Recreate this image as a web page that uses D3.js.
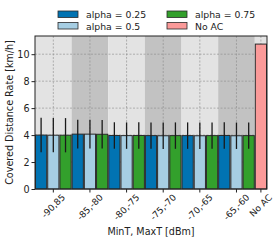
<!DOCTYPE html>
<html>
<head>
<meta charset="utf-8">
<script src="https://cdn.jsdelivr.net/npm/d3@7"></script>
<style>
  body { margin: 0; background: #fff; }
  text { font-family: "DejaVu Sans", sans-serif; fill: #222; }
</style>
</head>
<body>
<div id="chart"></div>
<script>
// chart values
const categories = ['-90,85', '-85,-80', '-80,-75', '-75,-70', '-70,-65', '-65,-60'];
const seriesNames = ['alpha = 0.25', 'alpha = 0.5', 'alpha = 0.75'];
const seriesColors = ['#0173b2', '#a6cee3', '#33a02c'];
const means = [
    [4.00, 3.99, 3.99],
    [4.07, 4.07, 4.06],
    [3.97, 3.96, 3.97],
    [3.96, 3.95, 3.96],
    [3.96, 3.95, 3.96],
    [3.97, 3.95, 3.96]
];
const errors = [
    [1.28, 1.27, 1.27],
    [1.07, 1.07, 1.06],
    [0.98, 0.98, 0.98],
    [0.98, 0.98, 0.98],
    [0.98, 0.98, 0.98],
    [0.98, 0.98, 0.98]
];
const noAcLabel = 'No AC';
const noAcValue = 10.75;
const noAcColor = '#fb9a99';
const yTicks = [0, 2, 4, 6, 8, 10];

const width = 280;
const height = 242;
const margin = { top: 36, right: 13, bottom: 53, left: 35 };

const svg = d3.select('#chart').append('svg')
    .attr('width', width)
    .attr('height', height);

const nSlots = categories.length * seriesNames.length + 1;
const x = d3.scaleBand()
    .domain(d3.range(nSlots))
    .range([margin.left, width - margin.right])
    .padding(0);

const y = d3.scaleLinear()
    .domain([0, 11.35])
    .range([height - margin.bottom, margin.top]);

const bw = x.bandwidth();

// background shading per group
const groups = categories.map((c, i) => ({ label: c, slots: [i * 3, i * 3 + 2] }));
groups.push({ label: noAcLabel, slots: [nSlots - 1, nSlots - 1] });

svg.selectAll('rect.bg')
    .data(groups)
    .enter().append('rect')
    .attr('class', 'bg')
    .attr('x', d => x(d.slots[0]))
    .attr('y', margin.top)
    .attr('width', d => x(d.slots[1]) + bw - x(d.slots[0]))
    .attr('height', y(0) - margin.top)
    .attr('fill', (d, i) => i % 2 === 0 ? '#e3e3e3' : '#c2c2c2');

// tick positions: centre of each group
const tickPos = groups.map(d => (x(d.slots[0]) + x(d.slots[1]) + bw) / 2);

// grid
svg.selectAll('line.hgrid')
    .data(yTicks.slice(1))
    .enter().append('line')
    .attr('x1', margin.left).attr('x2', width - margin.right)
    .attr('y1', d => y(d)).attr('y2', d => y(d))
    .attr('stroke', '#8a8a8a').attr('stroke-width', 0.6)
    .attr('stroke-dasharray', '2,1.5');

svg.selectAll('line.vgrid')
    .data(tickPos)
    .enter().append('line')
    .attr('x1', d => d).attr('x2', d => d)
    .attr('y1', margin.top).attr('y2', y(0))
    .attr('stroke', '#8a8a8a').attr('stroke-width', 0.6)
    .attr('stroke-dasharray', '2,1.5');

// bars
const bars = [];
categories.forEach((c, gi) => {
    seriesNames.forEach((s, si) => {
        bars.push({ slot: gi * 3 + si, value: means[gi][si], err: errors[gi][si], color: seriesColors[si] });
    });
});
bars.push({ slot: nSlots - 1, value: noAcValue, err: 0, color: noAcColor });

svg.selectAll('rect.bar')
    .data(bars)
    .enter().append('rect')
    .attr('class', 'bar')
    .attr('x', d => x(d.slot) + 0.5)
    .attr('y', d => y(d.value))
    .attr('width', bw - 1)
    .attr('height', d => y(0) - y(d.value))
    .attr('fill', d => d.color)
    .attr('stroke', '#2a2a2a')
    .attr('stroke-width', 1);

svg.selectAll('line.err')
    .data(bars.filter(d => d.err > 0))
    .enter().append('line')
    .attr('x1', d => x(d.slot) + bw / 2).attr('x2', d => x(d.slot) + bw / 2)
    .attr('y1', d => y(d.value - d.err)).attr('y2', d => y(d.value + d.err))
    .attr('stroke', '#1a1a1a').attr('stroke-width', 1.3);

// frame
svg.append('rect')
    .attr('x', margin.left).attr('y', margin.top)
    .attr('width', width - margin.left - margin.right)
    .attr('height', y(0) - margin.top)
    .attr('fill', 'none').attr('stroke', '#222').attr('stroke-width', 1);

// y axis
const yAxis = d3.axisLeft(y).tickValues(yTicks).tickSize(3.5).tickPadding(2);
const yg = svg.append('g').attr('transform', `translate(${margin.left},0)`).call(yAxis);
yg.select('.domain').remove();
yg.selectAll('line').attr('stroke', '#222');
yg.selectAll('text').style('font-size', '9.6px').attr('fill', '#222');

// x ticks
svg.selectAll('line.xtick')
    .data(tickPos)
    .enter().append('line')
    .attr('x1', d => d).attr('x2', d => d)
    .attr('y1', y(0)).attr('y2', y(0) + 3.5)
    .attr('stroke', '#222');

svg.selectAll('text.xlab')
    .data(groups)
    .enter().append('text')
    .attr('class', 'xlab')
    .style('font-size', '9px')
    .attr('text-anchor', 'middle')
    .attr('dominant-baseline', 'central')
    .text(d => d.label)
    .each(function (d, i) {
        const w = this.getComputedTextLength();
        const h = 8;
        const cy = y(0) + 4 + (w + h) / (2 * Math.SQRT2);
        d3.select(this).attr('transform', `translate(${tickPos[i]},${cy}) rotate(-45)`);
    });

// axis labels
svg.append('text')
    .attr('x', (margin.left + width - margin.right) / 2)
    .attr('y', 235)
    .attr('text-anchor', 'middle')
    .style('font-size', '9.6px')
    .text('MinT, MaxT [dBm]');

svg.append('text')
    .attr('transform', `translate(13,${(margin.top + y(0)) / 2}) rotate(-90)`)
    .attr('text-anchor', 'middle')
    .style('font-size', '9.6px')
    .text('Covered Distance Rate [km/h]');

// legend
const legendItems = [
    { name: seriesNames[0], color: seriesColors[0], col: 0, row: 0 },
    { name: seriesNames[1], color: seriesColors[1], col: 0, row: 1 },
    { name: seriesNames[2], color: seriesColors[2], col: 1, row: 0 },
    { name: noAcLabel, color: noAcColor, col: 1, row: 1 }
];
const legend = svg.selectAll('g.legend')
    .data(legendItems)
    .enter().append('g')
    .attr('transform', d => `translate(${58 + d.col * 109},${11 + d.row * 11.5})`);

legend.append('rect')
    .attr('width', 20).attr('height', 6.5)
    .attr('fill', d => d.color)
    .attr('stroke', '#2a2a2a').attr('stroke-width', 0.8);

legend.append('text')
    .attr('x', 28).attr('y', 3.5)
    .attr('dominant-baseline', 'central')
    .style('font-size', '9.3px')
    .text(d => d.name);
</script>
</body>
</html>
